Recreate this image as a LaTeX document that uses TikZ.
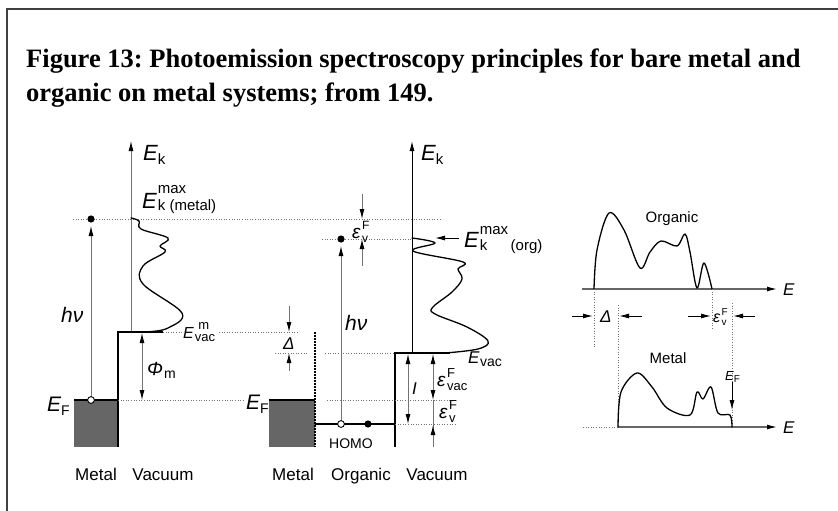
\documentclass[tikz,border=0pt]{standalone}
\usepackage{fontspec}
\setmainfont{Liberation Sans}
\newfontfamily\titlefont{Liberation Serif}
\usetikzlibrary{arrows.meta}
\frenchspacing
\newcommand{\fs}[1]{\fontsize{#1}{#1}\selectfont}
\newcommand{\SupSub}[4]{\begingroup\setbox0\hbox{#3}\setbox2\hbox{#4}\ifdim\wd0>\wd2 \wd2=\wd0 \fi\rlap{\raisebox{#1}{\box0}}\raisebox{#2}{\box2}\endgroup}
\tikzset{
  thinline/.style={draw=black!55, line width=0.9pt},
  dotline/.style={draw=black!55, line width=0.9pt, dash pattern=on 1pt off 1.6pt},
  thickline/.style={draw=black, line width=1.8pt},
  curve/.style={draw=black, line width=1.3pt, line join=round, line cap=round},
  arr/.style={-{Latex[length=10pt,width=5pt,color=black]}},
  darr/.style={{Latex[length=10pt,width=5pt,color=black]}-{Latex[length=10pt,width=5pt,color=black]}},
  lbl/.style={inner sep=0pt, anchor=base west},
  lblc/.style={inner sep=0pt, anchor=base},
  metalfill/.style={fill=black!60},
}
\begin{document}
\begin{tikzpicture}[x=1pt,y=-1pt]
\useasboundingbox (0,0) rectangle (838,511);
\fill[white] (0,0) rectangle (838,511);
% frame
\draw[line width=1.3pt, black!75] (7,511) -- (7,9) -- (838,9);
% title
\node[lbl, font=\titlefont\bfseries\fs{26.5}] (t1) at (26,67) {Figure 13: Photoemission spectroscopy principles for bare metal and};
\node[lbl, font=\titlefont\bfseries\fs{26.5}] (t2) at (26,101) {organic on metal systems; from 149.};

% ================= LEFT: bare metal =================
\coordinate (Lax0) at (131,332);
\coordinate (Lax1) at (131,141);
\draw[thinline, arr] (Lax0) -- (Lax1);
\draw[dotline] (73,219) -- (440,219);
\fill[metalfill] (74,400) rectangle (118,447);
\draw[thickline] (74,400) -- (118,400);
\draw[thickline] (118,447) -- (118,332) -- (163,332);
\draw[dotline] (163,332) -- (182,332);
\draw[dotline] (219,332) -- (298,332);
\draw[dotline] (118,400) -- (243,400);
% h nu
\coordinate (Lh0) at (91,400);
\coordinate (Lh1) at (91,226);
\draw[thinline, arr] (Lh0) -- (Lh1);
\fill (91,219) circle (3.6);
\draw[fill=white, line width=0.9pt] (Lh0) circle (3.4);
% work function
\coordinate (Lp0) at (142,333);
\coordinate (Lp1) at (142,400);
\draw[thinline, darr] (Lp0) -- (Lp1);
% spectrum
\draw[curve] plot[smooth, tension=0.6] coordinates {(131,218) (139,221) (141,229) (168,238) (160,246) (165,252) (143,266) (143,284) (182,313) (168,328) (147,332) (140,332)};
% labels
\node[lbl] (Lek) at (143,160) {\fs{22}\itshape E\upshape\fs{15}\raisebox{-4pt}{k}};
\node[lbl] (Lekm) at (142,208) {\fs{22}\itshape E\upshape\fs{15}\kern1pt\SupSub{15pt}{-2pt}{max}{k (metal)}};
\node[lbl] (Lhv) at (61,322) {\fs{21}\itshape hν};
\node[lbl] (Levm) at (183,338) {\fs{16}\itshape E\upshape\fs{13}\kern1pt\SupSub{9pt}{-3pt}{\ m}{vac}};
\node[lbl] (Lphi) at (147,375) {\fs{19}\itshape Φ\upshape\fs{14}\kern1pt\raisebox{-3pt}{m}};
\node[lbl] (Lef) at (47,411) {\fs{21}\itshape E\upshape\fs{14}\raisebox{-4pt}{F}};
\node[lblc, font=\fs{17}] (Lmet) at (96,480) {Metal};
\node[lblc, font=\fs{17}] (Lvac) at (163,480) {Vacuum};

% ================= MIDDLE: organic on metal =================
\fill[metalfill] (269,400) rectangle (315,447);
\draw[thickline] (269,400) -- (315,400);
\draw[line width=1.8pt, dash pattern=on 1.5pt off 1.5pt] (315,332) -- (315,447);
\draw[thickline] (315,424) -- (395,424);
\draw[thickline] (395,447) -- (395,353) -- (450,353);
\draw[dotline] (322,239) -- (412,239);
\draw[dotline] (275,353) -- (308,353);
\draw[dotline] (325,353) -- (395,353);
\draw[dotline] (327,400) -- (452,400);
\draw[dotline] (395,424) -- (455,424);
% h nu
\coordinate (Mh0) at (341,424);
\coordinate (Mh1) at (341,246);
\draw[thinline, arr] (Mh0) -- (Mh1);
\fill (341,239) circle (3.6);
\draw[fill=white, line width=0.9pt] (Mh0) circle (3.4);
\fill (368,424) circle (3.6);
% Delta arrows
\draw[thinline, arr] (289,306) -- (289,332);
\draw[thinline, arr] (289,371) -- (289,353);
% eps_v^F top arrows
\draw[thinline, arr] (362,194) -- (362,219);
\draw[thinline, arr] (362,266) -- (362,239);
% Ek axis
\coordinate (Max0) at (412,353);
\coordinate (Max1) at (412,141);
\draw[draw=black, line width=1pt, arr] (Max0) -- (Max1);
% spectrum
\draw[curve] plot[smooth, tension=0.6] coordinates {(412,238) (435,243) (413,251) (463,262) (458,269) (462,279) (452,292) (433,307) (435,314) (467,327) (488,341) (478,349) (445,353)};
% Ek max arrow
\draw[line width=1pt, arr] (459,238) -- (435,238);
% I, eps_vac^F, eps_v^F
\draw[thinline, darr] (408,354) -- (408,424);
\draw[thinline, darr] (433,354) -- (433,400);
\draw[thinline] (433,400) -- (433,428);
\draw[thinline, arr] (433,447) -- (433,425);
% labels
\node[lbl] (Mef) at (246,409) {\fs{21}\itshape E\upshape\fs{14}\raisebox{-4pt}{F}};
\node[lbl] (Mdel) at (283,349) {\fs{17}\itshape Δ};
\node[lbl] (Mhv) at (345,330) {\fs{21}\itshape hν};
\node[lbl] (Mepv) at (352,238) {\fs{19}\itshape ε\upshape\fs{12}\kern1.5pt\SupSub{9pt}{-4pt}{F}{v}};
\node[lblc, font=\fs{14}] (Mhomo) at (351,448) {HOMO};
\node[lbl] (Mek) at (421,160) {\fs{22}\itshape E\upshape\fs{15}\raisebox{-4pt}{k}};
\node[lbl] (Mekm) at (464,247) {\fs{22}\itshape E\upshape\fs{15}\kern1pt\SupSub{13pt}{-3pt}{max}{k}\raisebox{-3pt}{\,(org)}};
\node[lbl] (Mevac) at (468,363) {\fs{17}\itshape E\upshape\fs{14}\kern0.5pt\raisebox{-3pt}{vac}};
\node[lbl] (MI) at (412,394) {\fs{17}\itshape I};
\node[lbl] (Mepvac) at (437,386) {\fs{19}\itshape ε\upshape\fs{13}\kern1.5pt\SupSub{9pt}{-4pt}{F}{vac}};
\node[lbl] (Mepv2) at (439,418) {\fs{19}\itshape ε\upshape\fs{13}\kern1.5pt\SupSub{9pt}{-4pt}{F}{v}};
\node[lblc, font=\fs{17}] (Mmet) at (293,480) {Metal};
\node[lblc, font=\fs{17}] (Morg) at (361,480) {Organic};
\node[lblc, font=\fs{17}] (Mvac) at (437,480) {Vacuum};

% ================= RIGHT: spectra =================
\coordinate (Ro0) at (582,289);
\coordinate (Ro1) at (777,289);
\draw[draw=black!60, line width=1.2pt, arr] (Ro0) -- (Ro1);
\draw[curve] plot[smooth, tension=0.55] coordinates {(594,289) (597,250) (609,213) (624,230) (640,268) (650,252) (661,241) (677,246) (685,234) (690,252) (697,288) (704,263) (712,289)};
\draw[dotline] (594,289) -- (594,348);
\draw[dotline] (618,305) -- (618,427);
\draw[dotline] (712,289) -- (712,330);
\draw[dotline] (732,303) -- (732,425);
\draw[line width=1pt, arr] (572,316) -- (593,316);
\draw[line width=1pt, arr] (642,316) -- (619,316);
\draw[line width=1pt, arr] (688,316) -- (711,316);
\draw[line width=1pt, arr] (755,316) -- (733,316);
\coordinate (Rm0) at (618,427);
\coordinate (Rm1) at (777,427);
\draw[dotline] (583,427) -- (Rm0);
\draw[draw=black!60, line width=1.2pt, arr] (Rm0) -- (Rm1);
\draw[curve] plot[smooth, tension=0.55] coordinates {(618,427) (621,392) (637,373) (652,387) (667,408) (690,415) (697,392) (703,399) (711,387) (718,413) (730,415) (732,427)};
\draw[line width=1pt, arr] (732,382) -- (732,410);
\node[lblc, font=\fs{15}] (Rorg) at (672,222) {Organic};
\node[lblc, font=\fs{15}] (Rmet) at (668,363) {Metal};
\node[lbl] (RE1) at (783,295) {\fs{17}\itshape E};
\node[lbl] (RE2) at (783,433) {\fs{17}\itshape E};
\node[lbl] (Rdel) at (600,322) {\fs{17}\itshape Δ};
\node[lbl] (Repv) at (713,322) {\fs{16}\itshape ε\upshape\fs{10}\kern1.5pt\SupSub{7pt}{-3pt}{F}{v}};
\node[lbl] (Ref) at (725,380) {\fs{13}\itshape E\upshape\fs{10}\raisebox{-2pt}{F}};
\end{tikzpicture}
\end{document}
